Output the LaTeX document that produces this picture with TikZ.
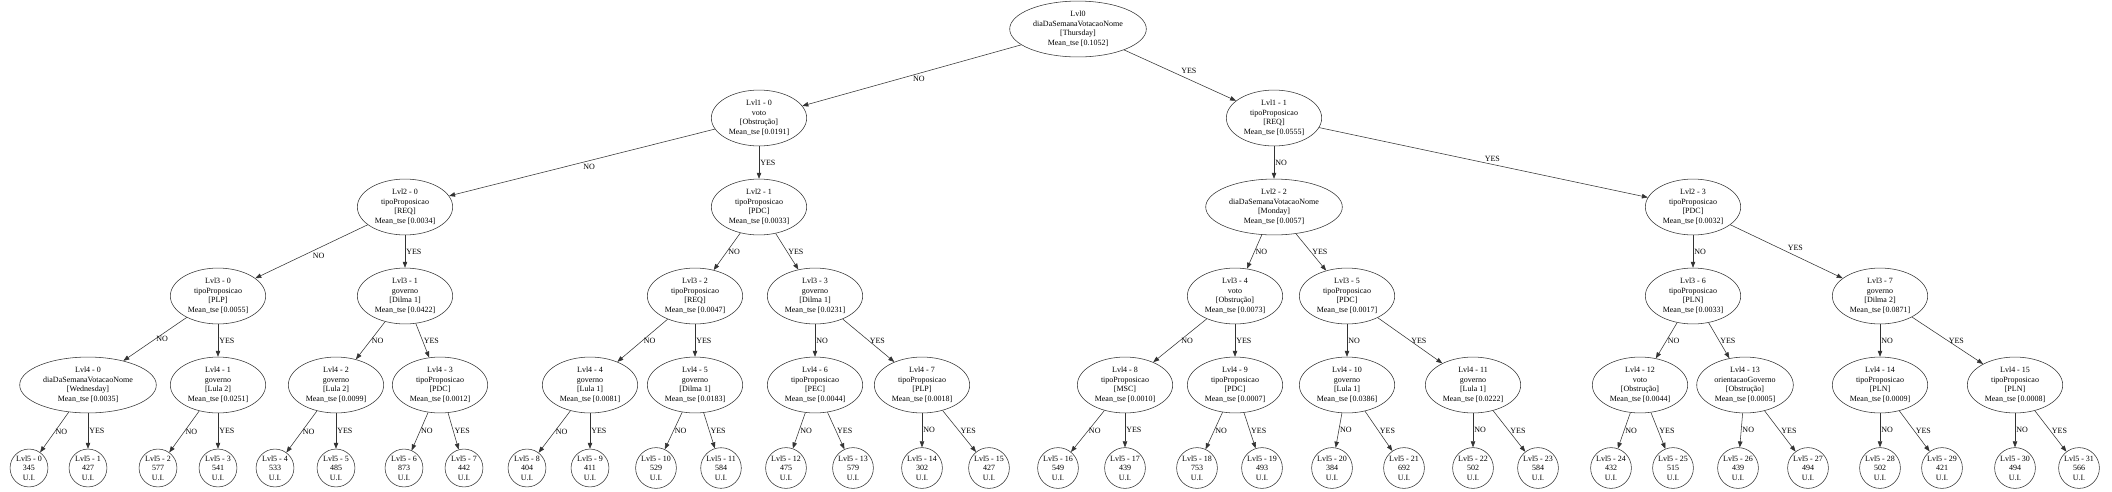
\documentclass[tikz,border=0pt]{standalone}
\usepackage{fontspec}
\setmainfont{Liberation Serif}
\usetikzlibrary{shapes.geometric,arrows.meta}
\begin{document}
\begin{tikzpicture}[x=1pt,y=-1pt,
  tn/.style={draw=black!80, line width=0.55pt, ellipse, inner xsep=3.5pt, inner ysep=2.2pt, align=center, font=\fontsize{8}{9.5}\selectfont},
  lf/.style={draw=black!80, line width=0.55pt, circle, inner sep=0.8pt, align=center, font=\fontsize{8}{9.5}\selectfont},
  ed/.style={draw=black!80, line width=0.55pt, -{Triangle[length=6pt,width=4.5pt]}},
  lbv/.style={midway, anchor=west, inner sep=1pt, font=\fontsize{8}{9.5}\selectfont},
  lbl/.style={midway, anchor=north west, inner sep=1pt, font=\fontsize{8}{9.5}\selectfont},
  lbr/.style={midway, anchor=south west, inner sep=1pt, font=\fontsize{8}{9.5}\selectfont}]
\useasboundingbox (0,0) rectangle (2112,491);
% level 0
\node[tn] (r) at (1078,29) {Lvl0\\diaDaSemanaVotacaoNome\\[0pt][Thursday]\\Mean\_tse [0.1052]};
% level 1
\node[tn] (a0) at (759,118) {Lvl1 - 0\\voto\\[0pt][Obstrução]\\Mean\_tse [0.0191]};
\node[tn] (a1) at (1274,118) {Lvl1 - 1\\tipoProposicao\\[0pt][REQ]\\Mean\_tse [0.0555]};
% level 2
\node[tn] (b0) at (405,207) {Lvl2 - 0\\tipoProposicao\\[0pt][REQ]\\Mean\_tse [0.0034]};
\node[tn] (b1) at (759,207) {Lvl2 - 1\\tipoProposicao\\[0pt][PDC]\\Mean\_tse [0.0033]};
\node[tn] (b2) at (1274,207) {Lvl2 - 2\\diaDaSemanaVotacaoNome\\[0pt][Monday]\\Mean\_tse [0.0057]};
\node[tn] (b3) at (1693,207) {Lvl2 - 3\\tipoProposicao\\[0pt][PDC]\\Mean\_tse [0.0032]};
% level 3
\node[tn] (c0) at (218,296) {Lvl3 - 0\\tipoProposicao\\[0pt][PLP]\\Mean\_tse [0.0055]};
\node[tn] (c1) at (405,296) {Lvl3 - 1\\governo\\[0pt][Dilma 1]\\Mean\_tse [0.0422]};
\node[tn] (c2) at (695,296) {Lvl3 - 2\\tipoProposicao\\[0pt][REQ]\\Mean\_tse [0.0047]};
\node[tn] (c3) at (815,296) {Lvl3 - 3\\governo\\[0pt][Dilma 1]\\Mean\_tse [0.0231]};
\node[tn] (c4) at (1235,296) {Lvl3 - 4\\voto\\[0pt][Obstrução]\\Mean\_tse [0.0073]};
\node[tn] (c5) at (1347,296) {Lvl3 - 5\\tipoProposicao\\[0pt][PDC]\\Mean\_tse [0.0017]};
\node[tn] (c6) at (1693,296) {Lvl3 - 6\\tipoProposicao\\[0pt][PLN]\\Mean\_tse [0.0033]};
\node[tn] (c7) at (1880,296) {Lvl3 - 7\\governo\\[0pt][Dilma 2]\\Mean\_tse [0.0871]};
% level 4
\node[tn] (d0) at (88,385) {Lvl4 - 0\\diaDaSemanaVotacaoNome\\[0pt][Wednesday]\\Mean\_tse [0.0035]};
\node[tn] (d1) at (218,385) {Lvl4 - 1\\governo\\[0pt][Lula 2]\\Mean\_tse [0.0251]};
\node[tn] (d2) at (336,385) {Lvl4 - 2\\governo\\[0pt][Lula 2]\\Mean\_tse [0.0099]};
\node[tn] (d3) at (440,385) {Lvl4 - 3\\tipoProposicao\\[0pt][PDC]\\Mean\_tse [0.0012]};
\node[tn] (d4) at (590,385) {Lvl4 - 4\\governo\\[0pt][Lula 1]\\Mean\_tse [0.0081]};
\node[tn] (d5) at (695,385) {Lvl4 - 5\\governo\\[0pt][Dilma 1]\\Mean\_tse [0.0183]};
\node[tn] (d6) at (815,385) {Lvl4 - 6\\tipoProposicao\\[0pt][PEC]\\Mean\_tse [0.0044]};
\node[tn] (d7) at (922,385) {Lvl4 - 7\\tipoProposicao\\[0pt][PLP]\\Mean\_tse [0.0018]};
\node[tn] (d8) at (1125,385) {Lvl4 - 8\\tipoProposicao\\[0pt][MSC]\\Mean\_tse [0.0010]};
\node[tn] (d9) at (1235,385) {Lvl4 - 9\\tipoProposicao\\[0pt][PDC]\\Mean\_tse [0.0007]};
\node[tn] (d10) at (1347,385) {Lvl4 - 10\\governo\\[0pt][Lula 1]\\Mean\_tse [0.0386]};
\node[tn] (d11) at (1473,385) {Lvl4 - 11\\governo\\[0pt][Lula 1]\\Mean\_tse [0.0222]};
\node[tn] (d12) at (1640,385) {Lvl4 - 12\\voto\\[0pt][Obstrução]\\Mean\_tse [0.0044]};
\node[tn] (d13) at (1745,385) {Lvl4 - 13\\orientacaoGoverno\\[0pt][Obstrução]\\Mean\_tse [0.0005]};
\node[tn] (d14) at (1880,385) {Lvl4 - 14\\tipoProposicao\\[0pt][PLN]\\Mean\_tse [0.0009]};
\node[tn] (d15) at (2015,385) {Lvl4 - 15\\tipoProposicao\\[0pt][PLN]\\Mean\_tse [0.0008]};
% level 5
\foreach \n/\x/\v in {0/29/345, 1/88/427, 2/158/577, 3/218/541, 4/275/533, 5/336/485, 6/404/873, 7/464/442,
  8/527/404, 9/590/411, 10/656/529, 11/721/584, 12/786/475, 13/853/579, 14/922/302, 15/989/427,
  16/1058/549, 17/1125/439, 18/1197/753, 19/1262/493, 20/1332/384, 21/1404/692, 22/1473/502, 23/1538/584,
  24/1611/432, 25/1673/515, 26/1738/439, 27/1808/494, 28/1880/502, 29/1942/421, 30/2015/494, 31/2079/566}
  {\node[lf] (e\n) at (\x,468) {Lvl5 - \n\\\v\\U.I.};}
% edges
\draw[ed] (r) -- node[lbl]{NO} (a0);
\draw[ed] (r) -- node[lbr]{YES} (a1);
\draw[ed] (a0) -- node[lbl]{NO} (b0);
\draw[ed] (a0) -- node[lbv]{YES} (b1);
\draw[ed] (a1) -- node[lbv]{NO} (b2);
\draw[ed] (a1) -- node[lbr]{YES} (b3);
\draw[ed] (b0) -- node[lbl]{NO} (c0);
\draw[ed] (b0) -- node[lbv]{YES} (c1);
\draw[ed] (b1) -- node[lbv]{NO} (c2);
\draw[ed] (b1) -- node[lbv]{YES} (c3);
\draw[ed] (b2) -- node[lbv]{NO} (c4);
\draw[ed] (b2) -- node[lbv]{YES} (c5);
\draw[ed] (b3) -- node[lbv]{NO} (c6);
\draw[ed] (b3) -- node[lbr]{YES} (c7);
\draw[ed] (c0) -- node[lbv]{NO} (d0);
\draw[ed] (c0) -- node[lbv]{YES} (d1);
\draw[ed] (c1) -- node[lbv]{NO} (d2);
\draw[ed] (c1) -- node[lbv]{YES} (d3);
\draw[ed] (c2) -- node[lbv]{NO} (d4);
\draw[ed] (c2) -- node[lbv]{YES} (d5);
\draw[ed] (c3) -- node[lbv]{NO} (d6);
\draw[ed] (c3) -- node[lbv]{YES} (d7);
\draw[ed] (c4) -- node[lbv]{NO} (d8);
\draw[ed] (c4) -- node[lbv]{YES} (d9);
\draw[ed] (c5) -- node[lbv]{NO} (d10);
\draw[ed] (c5) -- node[lbv]{YES} (d11);
\draw[ed] (c6) -- node[lbv]{NO} (d12);
\draw[ed] (c6) -- node[lbv]{YES} (d13);
\draw[ed] (c7) -- node[lbv]{NO} (d14);
\draw[ed] (c7) -- node[lbv]{YES} (d15);
\foreach \i in {0,...,15}{
  \pgfmathtruncatemacro{\lo}{2*\i}
  \pgfmathtruncatemacro{\hi}{2*\i+1}
  \draw[ed] (d\i) -- node[lbv]{NO} (e\lo);
  \draw[ed] (d\i) -- node[lbv]{YES} (e\hi);
}
\end{tikzpicture}
\end{document}
